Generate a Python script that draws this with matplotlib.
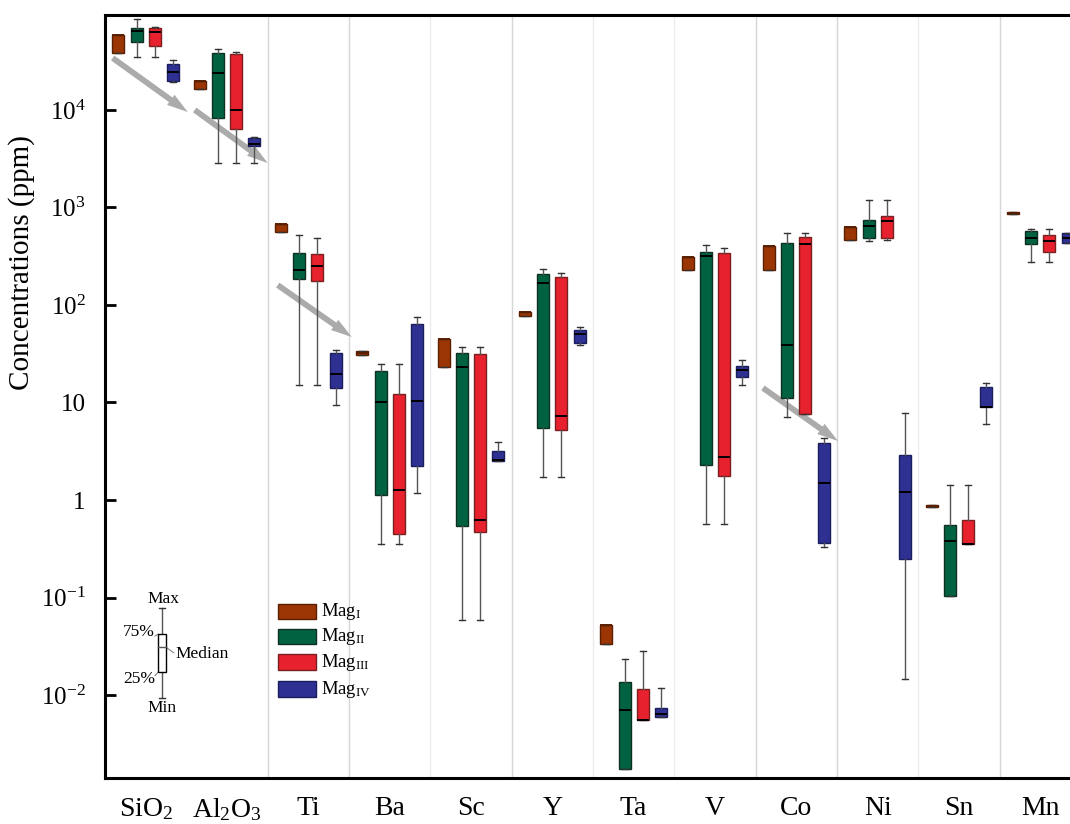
import matplotlib
matplotlib.use('Agg')
import matplotlib.pyplot as plt
import numpy as np
from matplotlib.patches import Rectangle, FancyArrowPatch
from matplotlib.ticker import NullLocator

plt.rcParams['font.family'] = ['Liberation Serif', 'DejaVu Serif']
plt.rcParams['mathtext.fontset'] = 'custom'
plt.rcParams['mathtext.rm'] = 'Liberation Serif'
plt.rcParams['mathtext.it'] = 'Liberation Serif:italic'
plt.rcParams['mathtext.default'] = 'regular'

# --- data (ppm) ---
elements = ['SiO$_2$', 'Al$_2$O$_3$', 'Ti', 'Ba', 'Sc', 'Y', 'Ta', 'V', 'Co', 'Ni', 'Sn', 'Mn']

# Mag I
m1_min = [38400, 16400, 561, 30.7, 23.1, 77.1, 0.0333, 229, 229, 464, 0.848, 857]
m1_q1 = [38400, 16400, 561, 30.7, 23.1, 77.1, 0.0333, 229, 229, 464, 0.848, 857]
m1_med = [58800, 19800, 677, 32.2, 44.8, 84.8, 0.0522, 311, 403, 631, 0.868, 878]
m1_q3 = [58800, 19800, 677, 33.7, 44.8, 84.8, 0.0522, 311, 403, 631, 0.888, 899]
m1_max = [58800, 19800, 677, 33.7, 44.8, 84.8, 0.0522, 311, 403, 631, 0.888, 899]

# Mag II
m2_min = [35000, 2860, 15.1, 0.354, 0.0588, 1.72, 0.00174, 0.567, 7.10, 453, 0.104, 276]
m2_q1 = [49800, 8280, 185, 1.13, 0.541, 5.47, 0.00174, 2.29, 11.1, 487, 0.104, 422]
m2_med = [64600, 23900, 229, 10.1, 23.1, 168, 0.00701, 318, 38.9, 646, 0.380, 487]
m2_q3 = [69300, 38400, 341, 21.0, 32.2, 208, 0.0136, 350, 432, 744, 0.554, 574]
m2_max = [85700, 42300, 522, 24.8, 37.1, 234, 0.0234, 412, 547, 1195, 1.43, 602]

# Mag III
m3_min = [35000, 2860, 15.1, 0.354, 0.0588, 1.72, 0.00554, 0.567, 7.62, 464, 0.354, 276]
m3_q1 = [45300, 6380, 176, 0.448, 0.470, 5.22, 0.00554, 1.76, 7.62, 487, 0.354, 350]
m3_med = [63100, 10000, 251, 1.27, 0.624, 7.27, 0.00554, 2.76, 422, 727, 0.354, 453]
m3_q3 = [69300, 37500, 333, 12.2, 31.5, 194, 0.0115, 341, 498, 818, 0.624, 522]
m3_max = [70500, 39300, 487, 24.8, 37.1, 213, 0.0283, 384, 547, 1195, 1.43, 602]

# Mag IV
m4_min = [19400, 2860, 9.43, 1.18, 2.51, 38.9, 0.00595, 15.1, 0.330, 0.0146, 6.02, 432]
m4_q1 = [19800, 4270, 14.1, 2.23, 2.51, 40.7, 0.00595, 18.3, 0.362, 0.248, 8.99, 432]
m4_med = [24500, 4480, 19.6, 10.4, 2.57, 50.4, 0.00638, 21.5, 1.49, 1.21, 8.99, 487]
m4_q3 = [29600, 5160, 32.2, 63.8, 3.18, 55.4, 0.00736, 23.7, 3.84, 2.89, 14.4, 547]
m4_max = [32600, 5280, 34.5, 75.3, 3.94, 59.5, 0.0118, 27.3, 4.32, 7.80, 15.8, 547]

groups = [
    ('Mag$_{\\rm I}$', m1_min, m1_q1, m1_med, m1_q3, m1_max),
    ('Mag$_{\\rm II}$', m2_min, m2_q1, m2_med, m2_q3, m2_max),
    ('Mag$_{\\rm III}$', m3_min, m3_q1, m3_med, m3_q3, m3_max),
    ('Mag$_{\\rm IV}$', m4_min, m4_q1, m4_med, m4_q3, m4_max),
]
face_colors = ['#9b3604', '#006241', '#e8212e', '#2e3192']
edge_colors = ['#5a1e00', '#10301f', '#7a2020', '#1b1d5c']
median_colors = ['#5a1e00', 'black', 'black', 'black']

fig = plt.figure(figsize=(10.7, 8.24), dpi=100)
ax = fig.add_axes([105 / 1070, 46 / 824, 976 / 1070, 763 / 824])
ax.set_yscale('log')

offsets = [-0.336, -0.112, 0.112, 0.336]
x = np.arange(len(elements))
for g, (name, mn, q1, med, q3, mx) in enumerate(groups):
    stats = []
    for i in range(len(elements)):
        stats.append(dict(whislo=mn[i], q1=q1[i], med=med[i], q3=q3[i],
                          whishi=mx[i], fliers=[]))
    ax.bxp(stats, positions=x + offsets[g], widths=0.148, patch_artist=True,
           showfliers=False, manage_ticks=False,
           boxprops=dict(facecolor=face_colors[g], edgecolor=edge_colors[g], lw=1),
           whiskerprops=dict(color='#555555', lw=1),
           capprops=dict(color='#333333', lw=1),
           medianprops=dict(color=median_colors[g], lw=1.4))

# light separators between element groups
for b in np.arange(1.5, 11, 1.0):
    strong = b in (1.5, 2.5, 4.5, 7.5, 8.5, 10.5)
    ax.axvline(b, color='#d6d6d6' if strong else '#ececec', lw=1, zorder=0)

ax.set_xlim(-0.5, 11.5)
ax.set_ylim(10 ** -2.851, 10 ** 4.974)

ax.set_xticks(x)
ax.set_xticklabels(elements)
ax.tick_params(axis='x', length=0, pad=13, labelsize=20)
yt = [1e-2, 1e-1, 1, 10, 1e2, 1e3, 1e4]
ax.set_yticks(yt)
ax.set_yticklabels(['$10^{-2}$', '$10^{-1}$', '1', '10', '$10^{2}$', '$10^{3}$', '$10^{4}$'])
ax.yaxis.set_minor_locator(NullLocator())
ax.tick_params(axis='y', direction='in', length=8, width=2, labelsize=18, pad=14)
ax.set_ylabel('Concentrations (ppm)', fontsize=21)
ax.yaxis.set_label_coords(-0.072, 0.676)
for s in ax.spines.values():
    s.set_linewidth(2.2)

# trend arrows
arrows = [((-0.406, 34100), (0.517, 9530)),
          ((0.603, 10000), (1.5, 2860)),
          ((1.624, 160), (2.534, 47.0)),
          ((7.589, 14.1), (8.512, 4.03))]
for p0, p1 in arrows:
    ax.add_patch(FancyArrowPatch(p0, p1, arrowstyle='simple,head_width=0.9,head_length=1.5,tail_width=0.42',
                                 mutation_scale=10, color='#ababab', lw=0,
                                 shrinkA=0, shrinkB=0, zorder=1))

# legend
leg_y = [0.2176, 0.1848, 0.152, 0.1166]
for g in range(4):
    ax.add_patch(Rectangle((0.1773, leg_y[g] - 0.0098), 0.0389, 0.0197, transform=ax.transAxes,
                           facecolor=face_colors[g], edgecolor=edge_colors[g], lw=1))
    ax.text(0.2213, leg_y[g], groups[g][0], transform=ax.transAxes, fontsize=13.5,
            va='center', ha='left')

# box key
kx = 0.0584
ax.plot([kx, kx], [0.1048, 0.2228], color='#555555', lw=1, transform=ax.transAxes)
for yy in (0.1048, 0.2228):
    ax.plot([kx - 0.003, kx + 0.003], [yy, yy], color='#333333', lw=1, transform=ax.transAxes)
ax.add_patch(Rectangle((kx - 0.0037, 0.139), 0.0074, 0.0497, transform=ax.transAxes,
                       facecolor='white', edgecolor='black', lw=1, zorder=3))
ax.plot([kx - 0.0037, kx + 0.0037], [0.1717, 0.1717], color='#555555', lw=1,
        transform=ax.transAxes, zorder=4)
ax.plot([kx + 0.0037, 0.0705], [0.1717, 0.164], color='#777777', lw=0.7, transform=ax.transAxes)
ax.plot([0.0512, kx - 0.0037], [0.186, 0.1887], color='#777777', lw=0.7, transform=ax.transAxes)
ax.plot([0.0512, kx - 0.0037], [0.134, 0.139], color='#777777', lw=0.7, transform=ax.transAxes)
ax.text(kx + 0.001, 0.2346, 'Max', transform=ax.transAxes, fontsize=12.5, ha='center', va='center')
ax.text(kx, 0.0917, 'Min', transform=ax.transAxes, fontsize=12.5, ha='center', va='center')
ax.text(0.0512, 0.1913, '75%', transform=ax.transAxes, fontsize=12.5, ha='right', va='center')
ax.text(0.0512, 0.1297, '25%', transform=ax.transAxes, fontsize=12.5, ha='right', va='center')
ax.text(0.0717, 0.1625, 'Median', transform=ax.transAxes, fontsize=12.5, ha='left', va='center')

fig.savefig('out.png', dpi=100)
